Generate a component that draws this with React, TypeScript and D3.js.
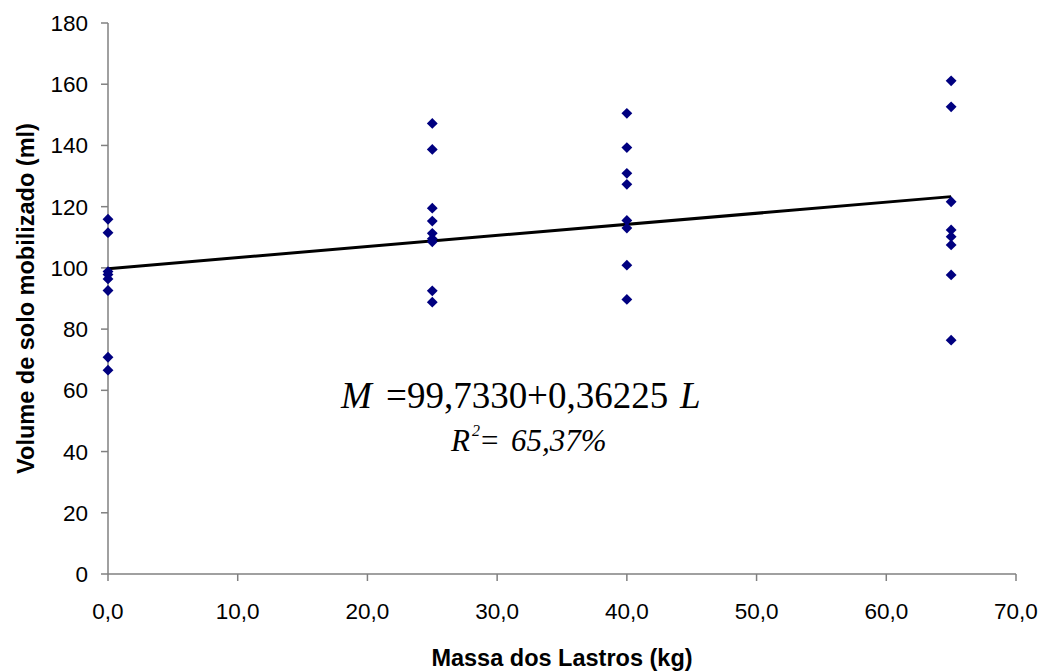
import { useEffect } from "react";
import * as d3 from "d3";

// Massa dos lastros (kg) e volume de solo mobilizado (ml)
const massa0 = [115.9, 111.5, 98.8, 97.8, 96.4, 92.6, 70.8, 66.6];
const massa25 = [147.2, 138.7, 119.5, 115.3, 111.3, 109.5, 108.5, 92.5, 88.8];
const massa40 = [150.5, 139.3, 130.9, 127.3, 115.5, 113.0, 100.9, 89.7];
const massa65 = [161.1, 152.6, 121.6, 112.4, 110.2, 107.5, 97.7, 76.4];
const lastros = [0, 25, 40, 65];
const xTicks = [0, 10, 20, 30, 40, 50, 60, 70];
const yTicks = [0, 20, 40, 60, 80, 100, 120, 140, 160, 180];
const intercepto = 99.733;
const inclinacao = 0.36225;

const W = 1045;
const H = 671;
const margin = { left: 108, right: 29, top: 23, bottom: 97 };

const sans = "Liberation Sans, Arial, sans-serif";
const serif = "Liberation Serif, Times New Roman, serif";

export default function App() {
  useEffect(() => {
    document.body.style.margin = "0";
  }, []);

  const x = d3
    .scaleLinear()
    .domain([0, 70])
    .range([margin.left, W - margin.right]);
  const y = d3
    .scaleLinear()
    .domain([0, 180])
    .range([H - margin.bottom, margin.top]);

  const grupos = [massa0, massa25, massa40, massa65];
  const pontos = grupos.flatMap((vals, i) =>
    vals.map((v) => ({ m: lastros[i], v })),
  );

  const diamond = d3.symbol().type(d3.symbolDiamond2).size(75)();
  const line = d3
    .line<number>()
    .x((d) => x(d))
    .y((d) => y(intercepto + inclinacao * d));

  const axisColor = "#808080";
  const fmt = (d: number) => d.toFixed(1).replace(".", ",");

  return (
    <svg width={W} height={H} style={{ display: "block" }}>
      <rect width={W} height={H} fill="#fff" />
      {/* eixos */}
      <line
        x1={x(0)}
        x2={x(0)}
        y1={y(180)}
        y2={y(0)}
        stroke={axisColor}
        strokeWidth={1.5}
      />
      <line
        x1={x(0)}
        x2={x(70)}
        y1={y(0)}
        y2={y(0)}
        stroke={axisColor}
        strokeWidth={1.5}
      />
      {yTicks.map((t) => (
        <g key={"y" + t}>
          <line
            x1={x(0) - 7}
            x2={x(0)}
            y1={y(t)}
            y2={y(t)}
            stroke={axisColor}
            strokeWidth={1.5}
          />
          <text
            x={x(0) - 20}
            y={y(t) + 8}
            textAnchor="end"
            fontFamily={sans}
            fontSize={22.5}
          >
            {t}
          </text>
        </g>
      ))}
      {xTicks.map((t) => (
        <g key={"x" + t}>
          <line
            x1={x(t)}
            x2={x(t)}
            y1={y(0)}
            y2={y(0) + 7}
            stroke={axisColor}
            strokeWidth={1.5}
          />
          <text
            x={x(t)}
            y={619}
            textAnchor="middle"
            fontFamily={sans}
            fontSize={22.5}
          >
            {fmt(t)}
          </text>
        </g>
      ))}
      <text
        x={(x(0) + x(70)) / 2}
        y={666}
        textAnchor="middle"
        fontFamily={sans}
        fontWeight="bold"
        fontSize={23.5}
      >
        Massa dos Lastros (kg)
      </text>
      <text
        transform={`translate(34,${(y(0) + y(180)) / 2}) rotate(-90)`}
        textAnchor="middle"
        fontFamily={sans}
        fontWeight="bold"
        fontSize={23.5}
      >
        Volume de solo mobilizado (ml)
      </text>
      {/* reta de regressão */}
      <path
        d={line([0, 65]) ?? ""}
        fill="none"
        stroke="#000"
        strokeWidth={3}
      />
      {pontos.map((p, i) => (
        <path
          key={i}
          d={diamond ?? ""}
          transform={`translate(${x(p.m)},${y(p.v)})`}
          fill="#000080"
        />
      ))}
      {/* equação */}
      <text y={408} fontFamily={serif} fontSize={37}>
        <tspan x={341} fontStyle="italic">
          M
        </tspan>
        <tspan x={386}>=</tspan>
        <tspan x={407}>99,7330</tspan>
        <tspan x={527}>+</tspan>
        <tspan x={548}>0,36225</tspan>
        <tspan x={680} fontStyle="italic">
          L
        </tspan>
      </text>
      <text fontFamily={serif} fontSize={31} fontStyle="italic">
        <tspan x={451} y={451}>
          R
        </tspan>
        <tspan x={472} y={436} fontSize={16}>
          2
        </tspan>
        <tspan x={479} y={451}>
          =
        </tspan>
        <tspan x={511} y={451}>
          65,37%
        </tspan>
      </text>
    </svg>
  );
}
